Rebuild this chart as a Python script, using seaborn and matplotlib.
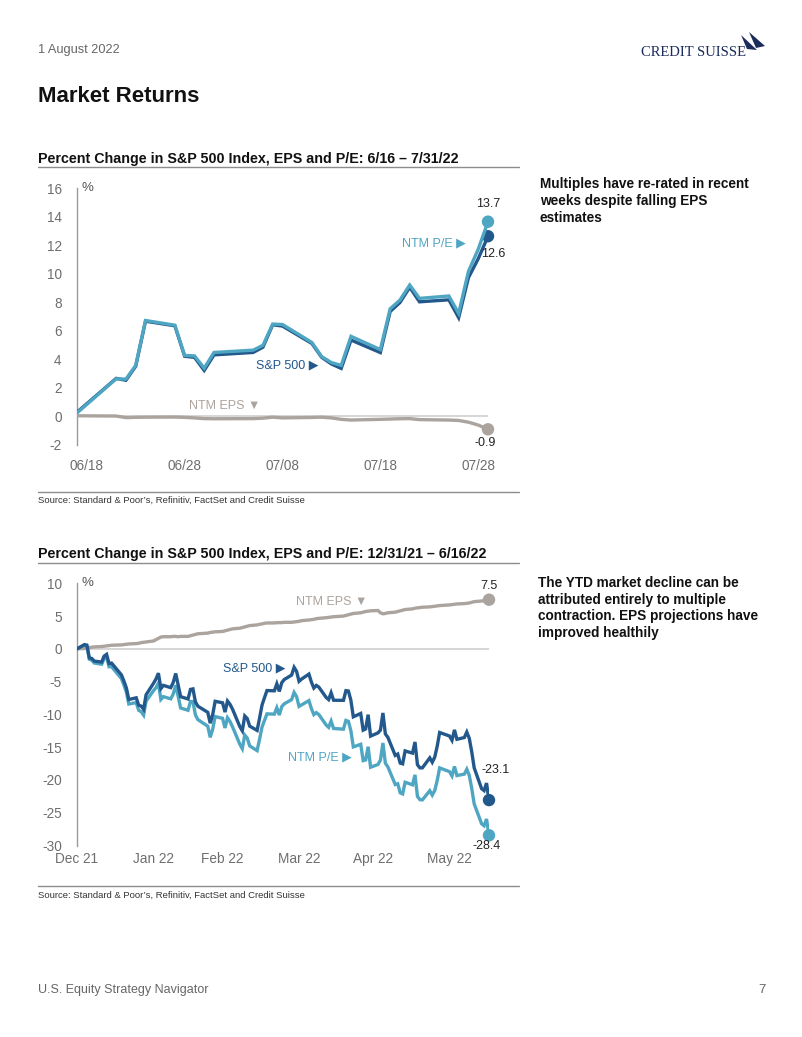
import numpy as np
import pandas as pd
import matplotlib
matplotlib.use("Agg")
import matplotlib.pyplot as plt
import matplotlib.dates as mdates
from matplotlib.lines import Line2D
from matplotlib.patches import Polygon
import seaborn as sns

# ---------------- data: chart 1 (6/16 - 7/31/22) ----------------
top_dates = ["2022-06-17", "2022-06-21", "2022-06-22", "2022-06-23", "2022-06-24",
             "2022-06-27", "2022-06-28", "2022-06-29", "2022-06-30", "2022-07-01",
             "2022-07-05", "2022-07-06", "2022-07-07", "2022-07-08", "2022-07-11",
             "2022-07-12", "2022-07-13", "2022-07-14", "2022-07-15", "2022-07-18",
             "2022-07-19", "2022-07-20", "2022-07-21", "2022-07-22", "2022-07-25",
             "2022-07-26", "2022-07-27", "2022-07-28", "2022-07-29"]
top_sp = [0.30, 2.67, 2.54, 3.52, 6.68, 6.36, 4.22, 4.15, 3.23, 4.32,
          4.49, 4.86, 6.43, 6.34, 5.12, 4.15, 3.68, 3.37, 5.36, 4.48,
          7.36, 7.99, 9.06, 8.04, 8.18, 6.93, 9.73, 11.06, 12.64]
top_eps = [0.05, 0.03, -0.08, -0.06, -0.05, -0.04, -0.06, -0.10, -0.15, -0.16,
           -0.15, -0.12, -0.05, -0.10, -0.07, -0.05, -0.10, -0.20, -0.25, -0.20,
           -0.18, -0.16, -0.15, -0.22, -0.25, -0.28, -0.40, -0.60, -0.90]
top_pe = [0.25, 2.64, 2.62, 3.58, 6.73, 6.40, 4.28, 4.25, 3.39, 4.49,
          4.65, 4.99, 6.48, 6.45, 5.19, 4.20, 3.78, 3.58, 5.62, 4.69,
          7.55, 8.16, 9.22, 8.28, 8.45, 7.23, 10.17, 11.73, 13.66]
top_xticks = ["2022-06-18", "2022-06-28", "2022-07-08", "2022-07-18", "2022-07-28"]
top_xticklabels = ["06/18", "06/28", "07/08", "07/18", "07/28"]
top_yticks = [-2, 0, 2, 4, 6, 8, 10, 12, 14, 16]

# ---------------- data: chart 2 (12/31/21 - 6/16/22) ----------------
bot_dates = ["2021-12-31",
    "2022-01-03", "2022-01-04", "2022-01-05", "2022-01-06", "2022-01-07", "2022-01-10",
    "2022-01-11", "2022-01-12", "2022-01-13", "2022-01-14", "2022-01-18", "2022-01-19",
    "2022-01-20", "2022-01-21", "2022-01-24", "2022-01-25", "2022-01-26", "2022-01-27",
    "2022-01-28", "2022-01-31", "2022-02-01", "2022-02-02", "2022-02-03", "2022-02-04",
    "2022-02-07", "2022-02-08", "2022-02-09", "2022-02-10", "2022-02-11", "2022-02-14",
    "2022-02-15", "2022-02-16", "2022-02-17", "2022-02-18", "2022-02-22", "2022-02-23",
    "2022-02-24", "2022-02-25", "2022-02-28", "2022-03-01", "2022-03-02", "2022-03-03",
    "2022-03-04", "2022-03-07", "2022-03-08", "2022-03-09", "2022-03-10", "2022-03-11",
    "2022-03-14", "2022-03-15", "2022-03-16", "2022-03-17", "2022-03-18", "2022-03-21",
    "2022-03-22", "2022-03-23", "2022-03-24", "2022-03-25", "2022-03-28", "2022-03-29",
    "2022-03-30", "2022-03-31", "2022-04-01", "2022-04-04", "2022-04-05", "2022-04-06",
    "2022-04-07", "2022-04-08", "2022-04-11", "2022-04-12", "2022-04-13", "2022-04-14",
    "2022-04-18", "2022-04-19", "2022-04-20", "2022-04-21", "2022-04-22", "2022-04-25",
    "2022-04-26", "2022-04-27", "2022-04-28", "2022-04-29", "2022-05-02", "2022-05-03",
    "2022-05-04", "2022-05-05", "2022-05-06", "2022-05-09", "2022-05-10", "2022-05-11",
    "2022-05-12", "2022-05-13", "2022-05-16", "2022-05-17", "2022-05-18", "2022-05-19",
    "2022-05-20", "2022-05-23", "2022-05-24", "2022-05-25", "2022-05-26", "2022-05-27",
    "2022-05-31", "2022-06-01", "2022-06-02", "2022-06-03", "2022-06-06", "2022-06-07",
    "2022-06-08", "2022-06-09", "2022-06-10", "2022-06-13", "2022-06-14", "2022-06-15",
    "2022-06-16"]
bot_sp = [0.00,
    0.64, 0.57, -1.38, -1.47, -1.87, -2.01, -1.11, -0.84, -2.25, -2.17,
    -3.97, -4.90, -5.95, -7.73, -7.47, -8.60, -8.73, -9.22, -7.01, -5.26,
    -4.61, -3.71, -6.06, -5.57, -5.92, -5.13, -3.76, -5.50, -7.29, -7.65,
    -6.19, -6.11, -8.10, -8.75, -9.68, -11.34, -10.02, -8.00, -8.23, -9.65,
    -7.97, -8.45, -9.17, -11.86, -12.49, -10.24, -10.63, -11.79, -12.44, -10.57,
    -8.57, -7.44, -6.36, -6.40, -5.34, -6.50, -5.16, -4.68, -4.00, -2.82,
    -3.43, -4.95, -4.62, -3.85, -5.06, -5.98, -5.58, -5.83, -7.42, -7.74,
    -6.70, -7.84, -7.86, -6.38, -6.43, -7.82, -10.37, -9.86, -12.40, -12.22,
    -10.04, -13.31, -12.82, -12.39, -9.78, -12.99, -13.49, -16.26, -16.05, -17.43,
    -17.54, -15.57, -15.91, -14.21, -17.68, -18.16, -18.15, -16.63, -17.30, -16.52,
    -14.86, -12.76, -13.30, -13.95, -12.36, -13.80, -13.53, -12.70, -13.65, -15.70,
    -18.16, -21.33, -21.62, -20.48, -23.07]
bot_eps = [0.00,
    0.05, 0.15, 0.20, 0.25, 0.30, 0.35, 0.40, 0.45, 0.50, 0.55,
    0.60, 0.65, 0.70, 0.75, 0.80, 0.85, 0.95, 1.00, 1.05, 1.20,
    1.40, 1.60, 1.80, 1.85, 1.85, 1.90, 1.90, 1.85, 1.90, 1.90,
    2.00, 2.10, 2.20, 2.30, 2.40, 2.50, 2.55, 2.60, 2.65, 2.75,
    2.85, 2.95, 3.05, 3.15, 3.25, 3.35, 3.45, 3.55, 3.65, 3.75,
    3.80, 3.90, 3.95, 3.95, 4.00, 4.00, 4.00, 4.05, 4.05, 4.10,
    4.15, 4.20, 4.30, 4.40, 4.45, 4.50, 4.60, 4.65, 4.75, 4.80,
    4.85, 4.90, 5.00, 5.10, 5.20, 5.30, 5.40, 5.50, 5.60, 5.70,
    5.75, 5.80, 5.85, 5.50, 5.35, 5.40, 5.50, 5.60, 5.70, 5.80,
    5.90, 6.00, 6.10, 6.20, 6.25, 6.30, 6.35, 6.40, 6.45, 6.50,
    6.55, 6.60, 6.70, 6.75, 6.80, 6.85, 6.90, 6.95, 7.00, 7.10,
    7.20, 7.30, 7.35, 7.40, 7.50]
bot_pe = [0.00,
    0.59, 0.42, -1.58, -1.72, -2.16, -2.35, -1.50, -1.28, -2.74, -2.71,
    -4.54, -5.51, -6.60, -8.42, -8.20, -9.37, -9.59, -10.12, -7.98, -6.38,
    -5.93, -5.23, -7.72, -7.29, -7.63, -6.90, -5.55, -7.22, -9.02, -9.37,
    -8.03, -8.04, -10.08, -10.80, -11.80, -13.50, -12.26, -10.33, -10.60, -12.07,
    -10.52, -11.07, -11.86, -14.55, -15.24, -13.15, -13.61, -14.81, -15.52, -13.80,
    -11.92, -10.91, -9.92, -9.96, -8.98, -10.10, -8.81, -8.39, -7.74, -6.65,
    -7.28, -8.78, -8.55, -7.90, -9.10, -10.03, -9.73, -10.01, -11.62, -11.97,
    -11.02, -12.15, -12.25, -10.92, -11.06, -12.46, -14.96, -14.56, -17.05, -16.95,
    -14.93, -18.06, -17.64, -16.96, -14.36, -17.45, -18.00, -20.70, -20.58, -21.96,
    -22.13, -20.35, -20.74, -19.22, -22.52, -23.01, -23.04, -21.64, -22.31, -21.62,
    -20.09, -18.16, -18.74, -19.39, -17.94, -19.33, -19.11, -18.37, -19.30, -21.29,
    -23.66, -26.68, -26.99, -25.96, -28.44]
bot_xticks = ["2021-12-31", "2022-01-31", "2022-02-28", "2022-03-31", "2022-04-30", "2022-05-31"]
bot_xticklabels = ["Dec 21", "Jan 22", "Feb 22", "Mar 22", "Apr 22", "May 22"]
bot_yticks = [-30, -25, -20, -15, -10, -5, 0, 5, 10]

# ---------------- style ----------------
sns.set_style("white")
plt.rcParams["font.family"] = ["Liberation Sans", "DejaVu Sans"]

C_SP = "#22588c"
C_PE = "#4fa6c3"
C_EPS = "#aba39d"
C_TICK = "#6e6e6e"
C_RULE = "#8c8c8c"
C_LOGO = "#1b2c5c"

W, H = 802, 1037
fig = plt.figure(figsize=(W / 100, H / 100), dpi=100)


def fx(px):
    return px / W


def fy(py):
    return 1 - py / H


def ftext(x, y, s, **kw):
    kw.setdefault("va", "center")
    kw.setdefault("ha", "left")
    fig.text(fx(x), fy(y), s, **kw)


def hrule(x0, x1, y, color=C_RULE, lw=1.0):
    fig.add_artist(Line2D([fx(x0), fx(x1)], [fy(y), fy(y)], color=color, lw=lw,
                          transform=fig.transFigure))


def make_axes(left, right, top, bottom):
    return fig.add_axes([fx(left), fy(bottom), fx(right) - fx(left), fy(top) - fy(bottom)])


def style_axes(ax, yticks, xticks, xticklabels, ylim, xlim, xpad):
    ax.set_ylim(*ylim)
    ax.set_xlim(*xlim)
    ax.set_yticks(yticks)
    ax.set_yticklabels([str(v) for v in yticks])
    ax.set_xticks(xticks)
    ax.set_xticklabels(xticklabels)
    for s in ["top", "right", "bottom"]:
        ax.spines[s].set_visible(False)
    ax.spines["left"].set_color("#9a9a9a")
    ax.spines["left"].set_linewidth(1.0)
    ax.tick_params(axis="both", length=0, labelsize=9.8, labelcolor=C_TICK)
    ax.tick_params(axis="y", pad=11)
    ax.tick_params(axis="x", pad=xpad)
    ax.set_xlabel("")
    ax.set_ylabel("")
    ax.axhline(0, color="#d0d0d0", lw=1.2, zorder=1)
    ax.text(0.012, 1.0, "%", transform=ax.transAxes, fontsize=9.5, color="#555555",
            ha="left", va="center")
    ax.patch.set_alpha(0)


def draw_series(ax, df, col, color, z):
    sns.lineplot(data=df, x="date", y=col, color=color, lw=2.4, ax=ax, zorder=z,
                 solid_joinstyle="miter", legend=False)
    sns.scatterplot(data=df.iloc[-1:], x="date", y=col, color=color, s=80, ax=ax,
                    zorder=z + 1, edgecolor="none", legend=False, clip_on=False)


# ---------------- header ----------------
ftext(38, 50, "1 August 2022", fontsize=9.2, color="#666666")
ftext(38, 97, "Market Returns", fontsize=16, fontweight="bold", color="#111111")

# logo
ftext(746, 53, "C", ha="left", fontsize=12, color=C_LOGO,
      family=["Liberation Serif", "DejaVu Serif"], alpha=0)
ftext(746, 52, "CREDIT SUISSE", ha="right", fontsize=10.5, color=C_LOGO,
      family=["Liberation Serif", "DejaVu Serif"])
fig.add_artist(Polygon([[fx(741), fy(35)], [fx(757), fy(50)], [fx(747), fy(49)]],
                       closed=True, transform=fig.transFigure, color=C_LOGO, lw=0))
fig.add_artist(Polygon([[fx(749), fy(32)], [fx(765), fy(46)], [fx(756), fy(48)]],
                       closed=True, transform=fig.transFigure, color=C_LOGO, lw=0))

# ---------------- chart 1 ----------------
ftext(38, 159, "Percent Change in S&P 500 Index, EPS and P/E: 6/16 \u2013 7/31/22",
      fontsize=10.3, fontweight="bold", color="#111111")
hrule(38, 519, 167)
ftext(540, 201, "Multiples have re-rated in recent\nweeks despite falling EPS\nestimates",
      fontsize=9.8, fontweight="bold", color="#111111", linespacing=1.25)

top = pd.DataFrame({"date": pd.to_datetime(top_dates), "sp": top_sp,
                    "eps": top_eps, "pe": top_pe})
ax1 = make_axes(77, 488, 188.3, 445)
draw_series(ax1, top, "eps", C_EPS, 3)
draw_series(ax1, top, "sp", C_SP, 4)
draw_series(ax1, top, "pe", C_PE, 6)
style_axes(ax1, top_yticks, pd.to_datetime(top_xticks), top_xticklabels, (-2, 16),
           (mdates.date2num(pd.Timestamp("2022-06-17")), mdates.date2num(pd.Timestamp("2022-07-29"))),
           xpad=10)

ftext(402, 243, "NTM P/E \u25B6", fontsize=9, color=C_PE)
ftext(256, 365, "S&P 500 \u25B6", fontsize=9, color=C_SP)
ftext(189, 406, "NTM EPS \u25BC", fontsize=9, color=C_EPS)
ftext(488, 204, "13.7", fontsize=9, color="#222222", ha="center")
ftext(481, 254, "12.6", fontsize=9, color="#222222")
ftext(485, 443, "-0.9", fontsize=9, color="#222222", ha="center")

hrule(38, 519, 492)
ftext(38, 500, "Source: Standard & Poor\u2019s, Refinitiv, FactSet and Credit Suisse",
      fontsize=6.8, color="#333333")

# ---------------- chart 2 ----------------
ftext(38, 554, "Percent Change in S&P 500 Index, EPS and P/E: 12/31/21 \u2013 6/16/22",
      fontsize=10.3, fontweight="bold", color="#111111")
hrule(38, 519, 563)
ftext(538, 608, "The YTD market decline can be\nattributed entirely to multiple\n"
      "contraction. EPS projections have\nimproved healthily",
      fontsize=9.8, fontweight="bold", color="#111111", linespacing=1.25)

bot = pd.DataFrame({"date": pd.to_datetime(bot_dates), "sp": bot_sp,
                    "eps": bot_eps, "pe": bot_pe})
ax2 = make_axes(77, 489, 583.3, 845.5)
draw_series(ax2, bot, "eps", C_EPS, 3)
draw_series(ax2, bot, "pe", C_PE, 4)
draw_series(ax2, bot, "sp", C_SP, 6)
style_axes(ax2, bot_yticks, pd.to_datetime(bot_xticks), bot_xticklabels, (-30, 10),
           (mdates.date2num(pd.Timestamp("2021-12-31")), mdates.date2num(pd.Timestamp("2022-06-16"))),
           xpad=5)

ftext(489, 586, "7.5", fontsize=9, color="#222222", ha="center")
ftext(296, 602, "NTM EPS \u25BC", fontsize=9, color=C_EPS)
ftext(223, 668, "S&P 500 \u25B6", fontsize=9, color=C_SP)
ftext(288, 757, "NTM P/E \u25B6", fontsize=9, color=C_PE)
ftext(481, 770, "-23.1", fontsize=9, color="#222222")
ftext(487, 846, "-28.4", fontsize=9, color="#222222", ha="center")

hrule(38, 519, 886)
ftext(38, 895, "Source: Standard & Poor\u2019s, Refinitiv, FactSet and Credit Suisse",
      fontsize=6.8, color="#333333")

# ---------------- footer ----------------
ftext(38, 990, "U.S. Equity Strategy Navigator", fontsize=9, color="#666666")
ftext(766, 990, "7", fontsize=9.5, color="#666666", ha="right")

fig.savefig("out.png", dpi=100)
